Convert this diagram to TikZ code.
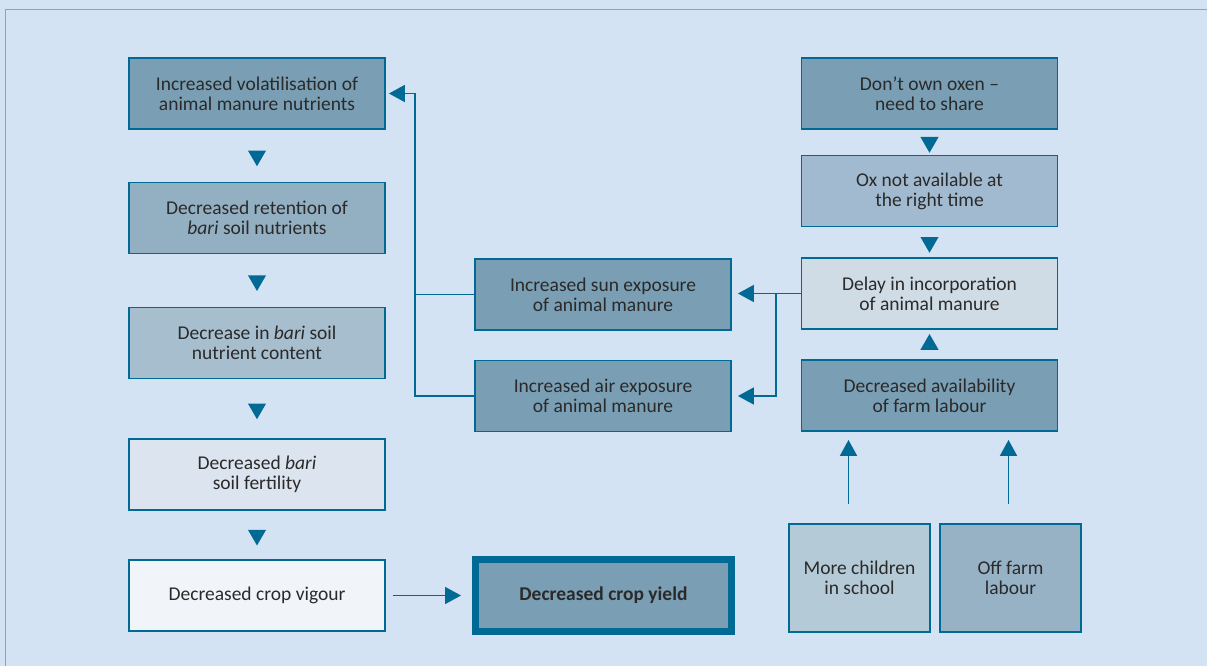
\documentclass[tikz,border=0pt]{standalone}
\usepackage{fontspec}
\setmainfont{Carlito}
\usetikzlibrary{arrows.meta,positioning,shapes.geometric,calc}
\definecolor{bgblue}{HTML}{D4E3F4}
\definecolor{framec}{HTML}{7FA6D0}
\definecolor{edgeblue}{HTML}{006A95}
\definecolor{txtgrey}{HTML}{2A2A2A}
\definecolor{fillA}{HTML}{7A9FB4}
\definecolor{fillB}{HTML}{93AFC2}
\definecolor{fillC}{HTML}{A7BECF}
\definecolor{fillD}{HTML}{DCE5EF}
\definecolor{fillE}{HTML}{F1F5FA}
\definecolor{fillF}{HTML}{A2BAD0}
\definecolor{fillG}{HTML}{CFDCE6}
\definecolor{fillH}{HTML}{B5CAD7}
\definecolor{fillI}{HTML}{97B2C5}

\begin{document}
\begin{tikzpicture}[x=1pt, y=-1pt, font=\fontsize{19.5}{20}\selectfont,
    >={Triangle[length=16pt,width=17pt]},
    box/.style={draw=edgeblue, line width=1.8pt, minimum width=256pt,
      minimum height=71pt, align=center, text=txtgrey, inner sep=2pt},
    smallbox/.style={box, minimum width=141pt, minimum height=108pt},
    flow/.style={->, draw=edgeblue, line width=1.8pt},
    tri/.style={regular polygon, regular polygon sides=3, fill=edgeblue,
      minimum size=21pt, inner sep=0pt},
    tridown/.style={tri, shape border rotate=180}]
  \path[fill=bgblue, use as bounding box] (0,0) rectangle (1207,666);
  \draw[framec, line width=1pt] (1207,10) -- (5,10) -- (5,666);

  % left column: soil nutrients down to yield
  \node[box, fill=fillA] (vol) at (257,93.5) {Increased volatilisation of\\ animal manure nutrients};
  \node[box, fill=fillB] (retain) at (257,218) {Decreased retention of\\ \textit{bari} soil nutrients};
  \node[box, fill=fillC] (content) at (257,343) {Decrease in \textit{bari} soil\\ nutrient content};
  \node[box, fill=fillD] (fertil) at (257,474.5) {Decreased \textit{bari}\\ soil fertility};
  \node[box, fill=fillE] (vigour) at (257,595.5) {Decreased crop vigour};
  \node[box, fill=fillA, line width=7pt, minimum height=72pt] (yield) at (603.5,595.5)
    {\textbf{Decreased crop yield}};

  % middle column
  \node[box, fill=fillA] (sun) at (603,294.5) {Increased sun exposure\\ of animal manure};
  \node[box, fill=fillA] (air) at (603,396) {Increased air exposure\\ of animal manure};

  % right column
  \node[box, fill=fillA] (oxen) at (929.5,93.5) {Don't own oxen --\\ need to share};
  \node[box, fill=fillF] (oxna) at (929.5,191) {Ox not available at\\ the right time};
  \node[box, fill=fillG] (delay) at (929.5,293.5) {Delay in incorporation\\ of animal manure};
  \node[box, fill=fillA] (labour) at (929.5,395.5) {Decreased availability\\ of farm labour};
  \node[smallbox, fill=fillH] (school) at (859.5,578) {More children\\ in school};
  \node[smallbox, fill=fillI] (offfarm) at (1010.5,578) {Off farm\\ labour};

  % triangles between stacked boxes
  \path (vol) -- node[tridown]{} (retain);
  \path (retain) -- node[tridown]{} (content);
  \path (content) -- node[tridown]{} (fertil);
  \path (fertil) -- node[tridown]{} (vigour);
  \path (oxen) -- node[tridown]{} (oxna);
  \path (oxna) -- node[tridown]{} (delay);
  \path (labour) -- node[tri]{} (delay);

  % connectors
  \coordinate (lbus) at (415,0);
  \coordinate (rbus) at (776,0);
  \draw[flow, shorten <=7pt, shorten >=11pt] (vigour) -- (yield);
  \draw[flow, shorten >=3pt] (air.west) -| (vol.east -| lbus) -- (vol.east);
  \draw[edgeblue, line width=1.8pt] (sun.west) -- (sun.west -| lbus);
  \draw[flow, shorten >=6pt] (delay.west) -- (delay.west -| sun.east);
  \draw[flow, shorten >=6pt] (delay.west -| rbus) |- (air.east);
  \draw[flow, shorten <=19pt, shorten >=8pt] ([xshift=-11pt]school.north)
    -- ([xshift=-11pt]school.north |- labour.south);
  \draw[flow, shorten <=19pt, shorten >=8pt] ([xshift=-2pt]offfarm.north)
    -- ([xshift=-2pt]offfarm.north |- labour.south);
\end{tikzpicture}
\end{document}
